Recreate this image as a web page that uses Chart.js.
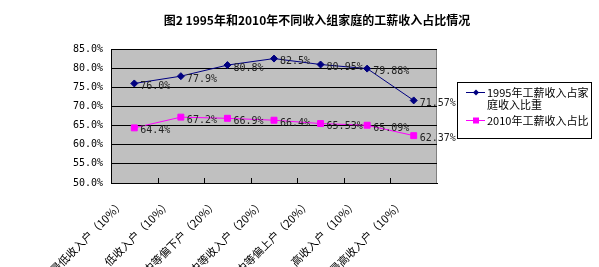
<!DOCTYPE html>
<html>
<head>
<meta charset="utf-8">
<script src="https://cdn.jsdelivr.net/npm/chart.js@4.4.0/dist/chart.umd.min.js"></script>
<style>
  html, body { margin: 0; padding: 0; background: #fff; }
  #wrap { width: 599px; height: 267px; }
</style>
</head>
<body>
<div id="wrap"><canvas id="grafico" width="599" height="267"></canvas></div>
<script>
const TITLE = '图2 1995年和2010年不同收入组家庭的工薪收入占比情况';
const categorias = ['最低收入户（10%）', '低收入户（10%）', '中等偏下户（20%）', '中等收入户（20%）', '中等偏上户（20%）', '高收入户（10%）', '最高收入户（10%）'];
const nomesSeries = ['1995年工薪收入占家庭收入比重', '2010年工薪收入占比'];
const valores1995 = [76.0, 77.9, 80.8, 82.5, 80.95, 79.88, 71.57];
const valores2010 = [64.4, 67.2, 66.9, 66.4, 65.53, 65.09, 62.37];
const eixoY = { min: 50, max: 85, passo: 5 };

const MONO = '"DejaVu Sans Mono", "Liberation Mono", monospace';
const CJK = '"Noto Sans CJK SC", sans-serif';

function formatar(v) {
    const d = Math.abs(Math.round(v * 10) - v * 10) < 1e-6 ? 1 : 2;
    return v.toFixed(d) + '%';
}

// fundo cinza da area de plotagem + titulo
const fundoPlugin = {
    id: 'fundo',
    beforeDraw(chart) {
        const { ctx, chartArea: a } = chart;
        ctx.save();
        ctx.fillStyle = '#C0C0C0';
        ctx.fillRect(a.left, a.top, a.right - a.left, a.bottom - a.top);
        ctx.strokeStyle = '#808080';
        ctx.lineWidth = 1;
        ctx.strokeRect(a.left + 0.5, a.top + 0.5, a.right - a.left - 1, a.bottom - a.top);
        ctx.font = 'bold 12px ' + CJK;
        ctx.fillStyle = '#000';
        ctx.textAlign = 'center';
        ctx.textBaseline = 'middle';
        ctx.fillText(TITLE, 317, 20);
        ctx.restore();
    }
};

// marcas de divisao das categorias (para dentro) + rotulos de dados + legenda
const extrasPlugin = {
    id: 'extras',
    afterDraw(chart) {
        const { ctx, chartArea: a } = chart;
        const x = chart.scales.x;
        ctx.save();
        ctx.strokeStyle = '#000';
        ctx.lineWidth = 1;
        const passo = (a.right - a.left) / categorias.length;
        for (let i = 1; i < categorias.length; i++) {
            const px = Math.round(a.left + passo * i) + 0.5;
            ctx.beginPath();
            ctx.moveTo(px, a.bottom);
            ctx.lineTo(px, a.bottom - 5);
            ctx.stroke();
        }

        ctx.font = '10px ' + MONO;
        ctx.fillStyle = '#222';
        ctx.textAlign = 'left';
        ctx.textBaseline = 'middle';
        chart.data.datasets.forEach((ds, di) => {
            chart.getDatasetMeta(di).data.forEach((pt, i) => {
                ctx.fillText(formatar(ds.data[i]), pt.x + 6, pt.y + 3);
            });
        });

        // legenda
        const lx = 457, ly = 82, lw = 134, lh = 56;
        ctx.fillStyle = '#fff';
        ctx.fillRect(lx, ly, lw, lh);
        ctx.strokeStyle = '#000';
        ctx.strokeRect(lx + 0.5, ly + 0.5, lw, lh);
        ctx.font = '11px ' + CJK;
        const linhas = [[nomesSeries[0].slice(0, 11), nomesSeries[0].slice(11)], [nomesSeries[1]]];
        const ys = [92, 120];
        chart.data.datasets.forEach((ds, di) => {
            const y = ys[di];
            ctx.strokeStyle = ds.borderColor;
            ctx.beginPath();
            ctx.moveTo(466, y + 0.5);
            ctx.lineTo(485, y + 0.5);
            ctx.stroke();
            ctx.fillStyle = ds.borderColor;
            if (ds.pointStyle === 'rect') {
                ctx.fillRect(473, y - 2.5, 6, 6);
            } else {
                ctx.beginPath();
                ctx.moveTo(476, y - 2.5);
                ctx.lineTo(479, y + 0.5);
                ctx.lineTo(476, y + 3.5);
                ctx.lineTo(473, y + 0.5);
                ctx.closePath();
                ctx.fill();
            }
            ctx.fillStyle = '#000';
            linhas[di].forEach((t, k) => ctx.fillText(t, 487, y + 1 + k * 12));
        });
        ctx.restore();
    }
};

const ctx = document.getElementById('grafico').getContext('2d');
new Chart(ctx, {
    type: 'line',
    data: {
        labels: categorias,
        datasets: [{
            label: nomesSeries[0],
            data: valores1995,
            borderColor: '#000080',
            backgroundColor: '#000080',
            borderWidth: 1,
            pointStyle: 'rectRot',
            pointRadius: 3.5,
            tension: 0
        }, {
            label: nomesSeries[1],
            data: valores2010,
            borderColor: '#FF00FF',
            backgroundColor: '#FF00FF',
            borderWidth: 1,
            pointStyle: 'rect',
            pointRadius: 4.2,
            tension: 0
        }]
    },
    options: {
        responsive: false,
        animation: false,
        events: [],
        layout: { padding: { left: 0, right: 162, top: 49, bottom: 0 } },
        plugins: {
            legend: { display: false },
            title: { display: false },
            tooltip: { enabled: false }
        },
        scales: {
            x: {
                offset: true,
                grid: { display: false, drawOnChartArea: false, drawTicks: false },
                border: { display: true, color: '#000', width: 1 },
                ticks: {
                    minRotation: 45,
                    maxRotation: 45,
                    autoSkip: false,
                    padding: 14,
                    labelOffset: -12,
                    color: '#000',
                    font: { family: CJK, size: 11 }
                },
                afterFit(s) { s.height = 84; }
            },
            y: {
                min: eixoY.min,
                max: eixoY.max,
                grid: { color: '#000', lineWidth: 1, drawTicks: false },
                border: { display: true, color: '#000', width: 1 },
                ticks: {
                    stepSize: eixoY.passo,
                    padding: 8,
                    color: '#000',
                    font: { family: MONO, size: 10 },
                    callback: v => v.toFixed(1) + '%'
                },
                afterFit(s) { s.width = 111; }
            }
        }
    },
    plugins: [fundoPlugin, extrasPlugin]
});
</script>
</body>
</html>
